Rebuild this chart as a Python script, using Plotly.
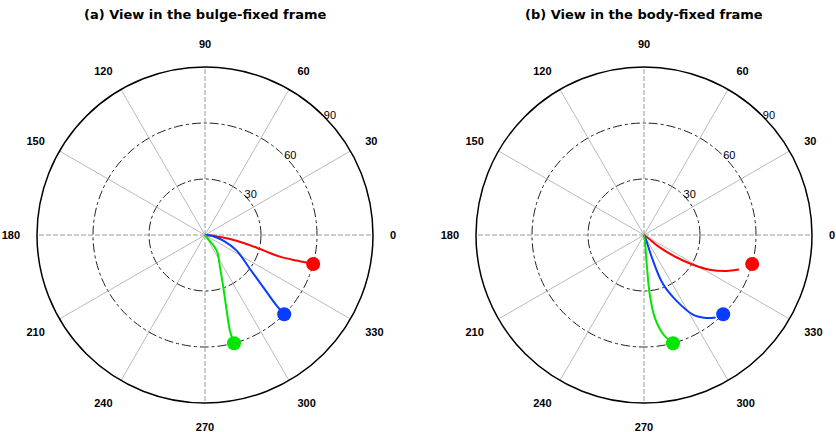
import plotly.graph_objects as go

W, H = 836, 432

# Angular tick positions (degrees) and radial rings
ang_ticks = list(range(0, 360, 30))
ring_vals = [30, 60, 90]
r_max = 90
ring_label_angle = 45

# (a) bulge-fixed frame trajectories: radius and polar angle (deg)
a_red_r = [0, 3.6, 8.0, 13.6, 22.8, 30.4, 36.0, 41.8, 51.0, 60.0]
a_red_t = [0, 355, 352.5, 350.9, 347.8, 345.7, 344.5, 343.9, 344.4, 345]
a_blue_r = [0, 3.6, 10.3, 18.9, 30.2, 42.0, 53.9, 60.0]
a_blue_t = [357, 354.3, 342.8, 333.7, 322.9, 318.1, 315.4, 315]
a_green_r = [0, 2.0, 10.5, 19.1, 29.7, 42.2, 53.0, 60.0]
a_green_t = [310, 308, 306.7, 294.9, 289.3, 286.0, 284.6, 285]

# (b) body-fixed frame trajectories
b_red_r = [0, 2.7, 10.7, 21.0, 30.7, 39.8, 48.1, 54.2]
b_red_t = [323, 323, 321.8, 325.4, 328.8, 332.2, 336.4, 340]
b_blue_r = [0, 2.3, 14.6, 28.2, 39.2, 50.1, 55.6, 58.5]
b_blue_t = [293, 293, 289.3, 291.2, 296.2, 301.6, 306.9, 311]
b_green_r = [0, 2.2, 17.4, 31.8, 44.5, 54.0, 60.0]
b_green_t = [279, 279.5, 275.3, 275.5, 277.4, 280.9, 285]

# End points (current positions) shown as dots
end_r = [60, 60, 60]
end_t = [345, 315, 285]

colors = ["#ff0000", "#0a3cff", "#00e600"]

fig = go.Figure()


def add_panel(name, series):
    # spokes: 0/90/180/270 dashed, the others thin solid
    for a in ang_ticks:
        major = a % 90 == 0
        fig.add_trace(go.Scatterpolar(
            r=[0, r_max], theta=[a, a], mode="lines", subplot=name,
            line=dict(color="#9a9a9a" if major else "#a8a8a8",
                      width=1 if major else 0.8,
                      dash="5px,2px" if major else "solid"),
            hoverinfo="skip", showlegend=False))
    # ring value labels along the 45 degree direction
    fig.add_trace(go.Scatterpolar(
        r=ring_vals, theta=[ring_label_angle] * len(ring_vals), mode="text",
        text=[str(v) for v in ring_vals], textposition="middle right",
        textfont=dict(family="Liberation Sans", size=11, color="black"),
        cliponaxis=False, subplot=name, hoverinfo="skip", showlegend=False))
    for (r, t), c in zip(series, colors):
        fig.add_trace(go.Scatterpolar(
            r=r, theta=t, mode="lines", subplot=name,
            line=dict(color=c, width=2, shape="spline"),
            showlegend=False))
    for rr, tt, c in zip(end_r, end_t, colors):
        fig.add_trace(go.Scatterpolar(
            r=[rr], theta=[tt], mode="markers", subplot=name,
            marker=dict(color=c, size=14), showlegend=False))


add_panel("polar", [(a_red_r, a_red_t), (a_blue_r, a_blue_t), (a_green_r, a_green_t)])
add_panel("polar2", [(b_red_r, b_red_t), (b_blue_r, b_blue_t), (b_green_r, b_green_t)])

y_dom = [29 / H, 365 / H]


def polar_layout(xdom):
    return dict(
        domain=dict(x=xdom, y=y_dom),
        bgcolor="white",
        radialaxis=dict(
            range=[0, r_max], tickvals=ring_vals, showticklabels=False,
            showline=False, ticks="", showgrid=True,
            gridcolor="#222222", griddash="dashdot", gridwidth=1.2,
        ),
        angularaxis=dict(
            rotation=0, direction="counterclockwise",
            tickvals=ang_ticks, ticktext=[str(a) for a in ang_ticks],
            showgrid=False, showline=True, linecolor="black", linewidth=1.5,
            ticks="outside", ticklen=14, tickcolor="rgba(0,0,0,0)",
            tickfont=dict(family="Liberation Sans", size=11, color="black", weight="bold"),
        ),
    )


fig.update_layout(
    width=W, height=H,
    margin=dict(l=0, r=0, t=0, b=0),
    paper_bgcolor="white",
    polar=polar_layout([37 / W, 373 / W]),
    polar2=polar_layout([476 / W, 812 / W]),
    annotations=[
        dict(text="<b>(a) View in the bulge-fixed frame</b>", x=205 / W, y=1 - 15 / H,
             xref="paper", yref="paper", showarrow=False, xanchor="center", yanchor="middle",
             font=dict(family="DejaVu Sans", size=13, color="black")),
        dict(text="<b>(b) View in the body-fixed frame</b>", x=644 / W, y=1 - 15 / H,
             xref="paper", yref="paper", showarrow=False, xanchor="center", yanchor="middle",
             font=dict(family="DejaVu Sans", size=13, color="black")),
    ],
)

fig.write_html("out.html")
